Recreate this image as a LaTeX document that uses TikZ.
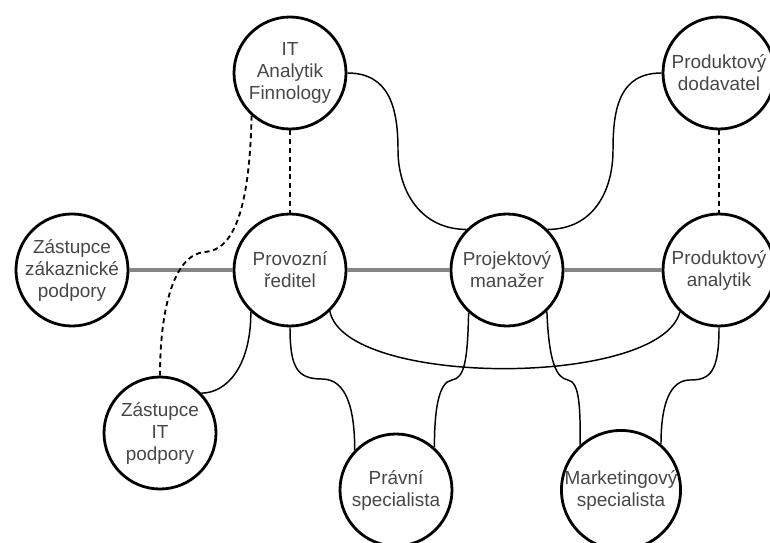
\documentclass[tikz,border=0pt]{standalone}
\usepackage{fontspec}
\setmainfont{Liberation Sans}
\begin{document}
\begin{tikzpicture}[x=0.75pt,y=-0.75pt,
  person/.style={circle,draw=black,line width=2.1pt,fill=white,minimum size=84pt,
    inner sep=0pt,align=center,text=black!72,font=\fontsize{14.2}{16.5}\selectfont},
  peer/.style={draw=black!48,line width=2.4pt},
  tie/.style={draw=black,line width=1.1pt},
  weak/.style={draw=black,line width=1.4pt,dash pattern=on 3.8pt off 2.8pt}]
\useasboundingbox (0,0) rectangle (770,542);

% people
\node[person] (ita) at (290,73)  {IT\\Analytik\\Finnology};
\node[person] (pd)  at (719,73)  {Produktový\\dodavatel};
\node[person] (zzp) at (72,270)  {Zástupce\\zákaznické\\podpory};
\node[person] (pr)  at (290,270) {Provozní\\ředitel};
\node[person] (pm)  at (507,270) {Projektový\\manažer};
\node[person] (pa)  at (719,270) {Produktový\\analytik};
\node[person] (zit) at (160,433) {Zástupce\\IT\\podpory};
\node[person] (ps)  at (396,490) {Právní\\specialista};
\node[person] (ms)  at (621,490) {Marketingový\\specialista};

% main line
\draw[peer] (zzp.east) -- (pr.west);
\draw[peer] (pr.east) -- (pm.west);
\draw[peer] (pm.east) -- (pa.west);

% dashed links
\draw[weak] (ita.south) -- (pr.north);
\draw[weak] (pd.south) -- (pa.north);
\draw[weak] (ita.228) .. controls +(-2,90) and +(30,-2) .. (205,252)
  .. controls +(-30,2) and +(0,-70) .. (zit.north);

% solid links
\draw[tie] (ita.east) .. controls +(42,0) and +(0,-42) .. (398,150)
  .. controls +(0,42) and +(-45,0) .. (pm.135);
\draw[tie] (pd.west) .. controls +(-42,0) and +(0,-42) .. (613,150)
  .. controls +(0,42) and +(45,0) .. (pm.45);
\draw[tie] (pr.227) .. controls +(0,55) and +(25,0) .. (zit.44);
\draw[tie] (pr.south) .. controls +(0,40) and +(-25,0) .. (322,379)
  .. controls +(25,0) and +(0,-40) .. (ps.136);
\draw[tie] (pm.228) .. controls +(-1,50) and +(12,-2) .. (452,380)
  .. controls +(-14,2) and +(0,-35) .. (ps.48);
\draw[tie] (pm.314) .. controls +(2,50) and +(-12,-2) .. (568,380)
  .. controls +(12,2) and +(0,-35) .. (ms.132);
\draw[tie] (pa.south) .. controls +(0,45) and +(20,0) .. (690,380)
  .. controls +(-20,0) and +(0,-40) .. (ms.49);
\draw[tie] (pr.314) .. controls +(15,76) and +(-20,76) .. (pa.227);
\end{tikzpicture}
\end{document}
